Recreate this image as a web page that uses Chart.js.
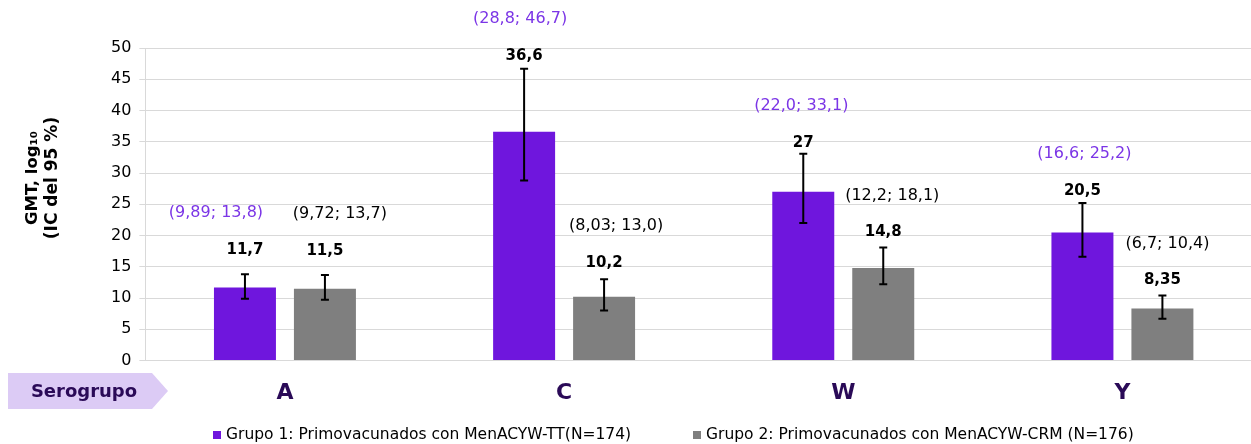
<!DOCTYPE html>
<html>
<head>
<meta charset="utf-8">
<script src="https://cdn.jsdelivr.net/npm/chart.js@4.4.1/dist/chart.umd.min.js"></script>
<style>
  html, body { margin: 0; padding: 0; background: #fff; overflow: hidden; }
  #wrap { width: 1262px; height: 444px; }
</style>
</head>
<body>
<div id="wrap"><canvas id="myChart" width="1262" height="444"></canvas></div>
<script>
// data
const categories = ['A', 'C', 'W', 'Y'];
const grupo1 = [11.7, 36.6, 27, 20.5];
const grupo1Low = [9.89, 28.8, 22.0, 16.6];
const grupo1High = [13.8, 46.7, 33.1, 25.2];
const grupo2 = [11.5, 10.2, 14.8, 8.35];
const grupo2Low = [9.72, 8.03, 12.2, 6.7];
const grupo2High = [13.7, 13.0, 18.1, 10.4];
const grupo1Labels = ['11,7', '36,6', '27', '20,5'];
const grupo2Labels = ['11,5', '10,2', '14,8', '8,35'];
const grupo1CiLabels = ['(9,89; 13,8)', '(28,8; 46,7)', '(22,0; 33,1)', '(16,6; 25,2)'];
const grupo2CiLabels = ['(9,72; 13,7)', '(8,03; 13,0)', '(12,2; 18,1)', '(6,7; 10,4)'];
const yMin = 0, yMax = 50, yStep = 5;

// label placement (pixels), per dataset and category
const valueLabelDy = [[-24, -13, -11, -12], [-24, -16, -15, -15]];
const ciLabelDx = [[-29, -4, -2, 2], [15, 12, 9, 5]];

const FONT = '"DejaVu Sans", Verdana, sans-serif';
const purple = '#6f16dd';
const gray = '#7f7f7f';
const darkPurple = '#2a0a57';

const lows = [grupo1Low, grupo2Low];
const highs = [grupo1High, grupo2High];
const valueLabels = [grupo1Labels, grupo2Labels];
const ciLabels = [grupo1CiLabels, grupo2CiLabels];
const ciColors = ['#7b35e6', '#000'];
const legendX = [213, 693];

const errorBars = {
  id: 'errorBars',
  afterDatasetsDraw(chart) {
    const ctx = chart.ctx;
    const y = chart.scales.y;
    ctx.save();
    chart.data.datasets.forEach((ds, i) => {
      chart.getDatasetMeta(i).data.forEach((bar, j) => {
        const x = bar.x;
        const yl = y.getPixelForValue(lows[i][j]);
        const yh = y.getPixelForValue(highs[i][j]);
        ctx.strokeStyle = '#000';
        ctx.lineWidth = 2;
        ctx.beginPath();
        ctx.moveTo(x, yl); ctx.lineTo(x, yh);
        ctx.moveTo(x - 4, yl); ctx.lineTo(x + 4, yl);
        ctx.moveTo(x - 4, yh); ctx.lineTo(x + 4, yh);
        ctx.stroke();
        const vy = yh + valueLabelDy[i][j];
        ctx.textAlign = 'center';
        ctx.textBaseline = 'middle';
        ctx.fillStyle = '#000';
        ctx.font = 'bold 15px ' + FONT;
        ctx.fillText(valueLabels[i][j], x, vy);
        ctx.font = '16px ' + FONT;
        ctx.fillStyle = ciColors[i];
        ctx.fillText(ciLabels[i][j], x + ciLabelDx[i][j], vy - 37);
      });
    });
    ctx.restore();
  },
  afterDraw(chart) {
    const ctx = chart.ctx;
    ctx.save();
    // y title
    ctx.translate(43, 178);
    ctx.rotate(-Math.PI / 2);
    ctx.fillStyle = '#000';
    ctx.font = 'bold 16.5px ' + FONT;
    ctx.textAlign = 'center';
    ctx.textBaseline = 'middle';
    ctx.fillText('GMT, log\u2081\u2080', 0, -10);
    ctx.font = 'bold 17px ' + FONT;
    ctx.fillText('(IC del 95 %)', 0, 10);
    ctx.restore();
    // Serogrupo arrow
    ctx.save();
    ctx.fillStyle = '#dccbf5';
    ctx.beginPath();
    ctx.moveTo(8, 373); ctx.lineTo(152, 373); ctx.lineTo(168, 391);
    ctx.lineTo(152, 409); ctx.lineTo(8, 409); ctx.closePath();
    ctx.fill();
    ctx.fillStyle = darkPurple;
    ctx.font = 'bold 18px ' + FONT;
    ctx.textAlign = 'center';
    ctx.textBaseline = 'middle';
    ctx.fillText('Serogrupo', 84, 392);
    // legend
    ctx.font = '15.5px ' + FONT;
    ctx.textAlign = 'left';
    chart.data.datasets.forEach((ds, i) => {
      ctx.fillStyle = ds.backgroundColor;
      ctx.fillRect(legendX[i], 431, 8, 8);
      ctx.fillStyle = '#000';
      ctx.fillText(ds.label, legendX[i] + 13, 435);
    });
    ctx.restore();
  }
};

new Chart(document.getElementById('myChart').getContext('2d'), {
  type: 'bar',
  data: {
    labels: categories,
    datasets: [{
      label: 'Grupo 1: Primovacunados con MenACYW-TT(N=174)',
      data: grupo1,
      backgroundColor: purple,
      borderWidth: 0
    }, {
      label: 'Grupo 2: Primovacunados con MenACYW-CRM (N=176)',
      data: grupo2,
      backgroundColor: gray,
      borderWidth: 0
    }]
  },
  options: {
    responsive: false,
    animation: false,
    devicePixelRatio: 1,
    datasets: { bar: { categoryPercentage: 0.573, barPercentage: 0.775 } },
    layout: { padding: { top: 48, left: 103, right: 0, bottom: 27 } },
    plugins: {
      tooltip: { enabled: false },
      legend: { display: false }
    },
    scales: {
      x: {
        grid: { display: false },
        border: { color: '#d9d9d9' },
        ticks: { color: darkPurple, padding: 11, font: { family: FONT, size: 22, weight: 'bold' } }
      },
      y: {
        min: yMin, max: yMax,
        grid: { color: '#d9d9d9', tickLength: 6 },
        border: { color: '#d9d9d9' },
        ticks: { stepSize: yStep, color: '#000', padding: 8, font: { family: FONT, size: 16 } }
      }
    }
  },
  plugins: [errorBars]
});
</script>
</body>
</html>
